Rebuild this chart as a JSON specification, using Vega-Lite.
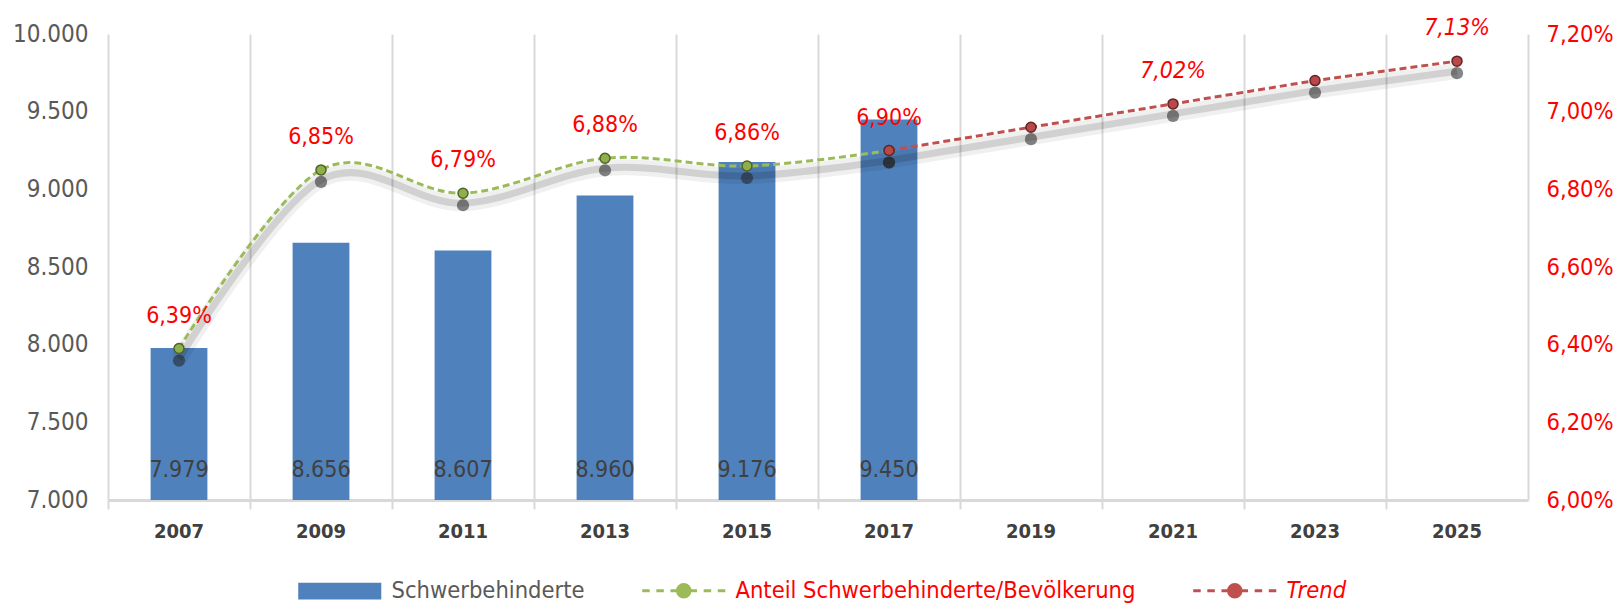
{
  "$schema": "https://vega.github.io/schema/vega-lite/v6.json",
  "autosize": "none",
  "width": 1420,
  "height": 466,
  "padding": {"left": 108, "top": 34, "right": 91, "bottom": 103},
  "datasets": {
    "bars": [
      {"Jahr": "2007", "Schwerbehinderte": 7979, "Serie": "Schwerbehinderte"},
      {"Jahr": "2009", "Schwerbehinderte": 8656, "Serie": "Schwerbehinderte"},
      {"Jahr": "2011", "Schwerbehinderte": 8607, "Serie": "Schwerbehinderte"},
      {"Jahr": "2013", "Schwerbehinderte": 8960, "Serie": "Schwerbehinderte"},
      {"Jahr": "2015", "Schwerbehinderte": 9176, "Serie": "Schwerbehinderte"},
      {"Jahr": "2017", "Schwerbehinderte": 9450, "Serie": "Schwerbehinderte"}
    ],
    "anteil": [
      {"Jahr": "2007", "Prozent": 0.0639},
      {"Jahr": "2009", "Prozent": 0.0685},
      {"Jahr": "2011", "Prozent": 0.0679},
      {"Jahr": "2013", "Prozent": 0.0688},
      {"Jahr": "2015", "Prozent": 0.0686},
      {"Jahr": "2017", "Prozent": 0.0690}
    ],
    "trend": [
      {"Jahr": "2017", "Prozent": 0.0690},
      {"Jahr": "2019", "Prozent": 0.0696},
      {"Jahr": "2021", "Prozent": 0.0702},
      {"Jahr": "2023", "Prozent": 0.0708},
      {"Jahr": "2025", "Prozent": 0.0713}
    ]
  },
  "encoding": {
    "x": {
      "field": "Jahr",
      "type": "nominal",
      "scale": {"domain": ["2007","2009","2011","2013","2015","2017","2019","2021","2023","2025"], "paddingInner": 0, "paddingOuter": 0},
      "axis": {
        "title": null,
        "labelAngle": 0,
        "bandPosition": 0,
        "grid": true,
        "gridColor": "#d9d9d9",
        "gridWidth": 2,
        "ticks": true,
        "tickSize": 9,
        "tickColor": "#d9d9d9",
        "tickWidth": 2,
        "domainColor": "#d9d9d9",
        "domainWidth": 3,
        "labelFontSize": 20,
        "labelFontWeight": "bold",
        "labelColor": "#404040",
        "labelPadding": 12
      }
    }
  },
  "layer": [
    {
      "data": {"name": "bars"},
      "layer": [
        {
          "mark": {"type": "bar", "width": {"band": 0.4}, "clip": true},
          "encoding": {
            "y": {
              "field": "Schwerbehinderte",
              "type": "quantitative",
              "scale": {"domain": [7000, 10000], "zero": false, "nice": false},
              "axis": {
                "title": null,
                "values": [7000, 7500, 8000, 8500, 9000, 9500, 10000],
                "format": ",d",
                "grid": false,
                "ticks": false,
                "domain": false,
                "labelFontSize": 24,
                "labelColor": "#595959",
                "labelPadding": 20
              }
            },
            "color": {
              "field": "Serie",
              "type": "nominal",
              "scale": {
                "domain": ["Schwerbehinderte", "Anteil Schwerbehinderte/Bevölkerung", "Trend"],
                "range": ["#4f81bd", "#9bbb59", "#c0504d"]
              },
              "legend": {
                "title": null,
                "orient": "none",
                "legendX": 220,
                "legendY": 545,
                "direction": "horizontal",
                "padding": 0,
                "symbolSize": 6900,
                "columnPadding": 51,
                "labelOffset": 40,
                "labelFontSize": 23.5,
                "labelLimit": 600,
                "encode": {
                  "symbols": {
                    "update": {
                      "shape": {"signal": "datum.index === 0 ? 'M-1,-0.2H1V0.2H-1Z' : 'M-1,0H-0.82M-0.66,0H-0.48M-0.32,0H-0.17M0.17,0H0.32M0.48,0H0.66M0.82,0H1M-0.15,0A0.15,0.15,0,1,1,0.15,0A0.15,0.15,0,1,1,-0.15,0Z'"},
                      "fill": {"signal": "datum.index === 0 ? '#4f81bd' : datum.index === 1 ? '#9bbb59' : '#c0504d'"},
                      "stroke": {"signal": "datum.index === 0 ? '#4f81bd' : datum.index === 1 ? '#9bbb59' : '#c0504d'"},
                      "strokeWidth": {"signal": "datum.index === 0 ? 0 : 3"},
                      "opacity": {"value": 1}
                    }
                  },
                  "labels": {
                    "update": {
                      "fill": {"signal": "datum.index === 0 ? '#595959' : '#ff0000'"},
                      "fontStyle": {"signal": "datum.index === 2 ? 'italic' : 'normal'"}
                    }
                  }
                }
              }
            }
          }
        },
        {
          "mark": {"type": "text", "fontSize": 23, "color": "#404040", "baseline": "middle"},
          "encoding": {
            "y": {"datum": 7190, "type": "quantitative"},
            "text": {"field": "Schwerbehinderte", "type": "quantitative", "format": ",d"}
          }
        }
      ]
    },
    {
      "encoding": {
        "y": {
          "field": "Prozent",
          "type": "quantitative",
          "scale": {"domain": [0.06, 0.072], "zero": false, "nice": false},
          "axis": {
            "orient": "right",
            "title": null,
            "values": [0.06, 0.062, 0.064, 0.066, 0.068, 0.07, 0.072],
            "format": ".2%",
            "grid": false,
            "ticks": false,
            "domain": true,
            "domainColor": "#d9d9d9",
            "domainWidth": 2,
            "labelFontSize": 23.5,
            "labelColor": "#ff0000",
            "labelPadding": 18
          }
        }
      },
      "layer": [
        {
          "data": {"name": "anteil"},
          "mark": {"type": "line", "interpolate": "cardinal", "color": "#000000", "opacity": 0.06, "strokeWidth": 16, "yOffset": 10}
        },
        {
          "data": {"name": "anteil"},
          "mark": {"type": "line", "interpolate": "cardinal", "color": "#000000", "opacity": 0.13, "strokeWidth": 7, "yOffset": 10}
        },
        {
          "data": {"name": "trend"},
          "mark": {"type": "line", "color": "#000000", "opacity": 0.06, "strokeWidth": 16, "yOffset": 10}
        },
        {
          "data": {"name": "trend"},
          "mark": {"type": "line", "color": "#000000", "opacity": 0.13, "strokeWidth": 7, "yOffset": 10}
        },
        {
          "data": {"name": "anteil"},
          "mark": {"type": "point", "filled": true, "color": "#222222", "opacity": 0.55, "size": 150, "yOffset": 12}
        },
        {
          "data": {"name": "trend"},
          "mark": {"type": "point", "filled": true, "color": "#222222", "opacity": 0.55, "size": 150, "yOffset": 12}
        },
        {
          "data": {"name": "anteil"},
          "mark": {"type": "line", "interpolate": "cardinal", "color": "#9bbb59", "strokeWidth": 3, "strokeDash": [7, 4]}
        },
        {
          "data": {"name": "trend"},
          "mark": {"type": "line", "color": "#c0504d", "strokeWidth": 3, "strokeDash": [7, 4]}
        },
        {
          "data": {"name": "anteil"},
          "mark": {"type": "point", "filled": true, "fill": "#8db04a", "stroke": "#4f6228", "strokeWidth": 1.5, "size": 100, "opacity": 1}
        },
        {
          "data": {"name": "trend"},
          "mark": {"type": "point", "filled": true, "fill": "#b9484a", "stroke": "#632523", "strokeWidth": 1.5, "size": 100, "opacity": 1}
        },
        {
          "data": {"name": "anteil"},
          "mark": {"type": "text", "fontSize": 23, "color": "#ff0000", "dy": -33, "baseline": "middle"},
          "encoding": {
            "text": {"field": "Prozent", "type": "quantitative", "format": ".2%"}
          }
        },
        {
          "data": {"name": "trend"},
          "transform": [{"filter": "datum.Jahr == '2021' || datum.Jahr == '2025'"}],
          "mark": {"type": "text", "fontSize": 23, "fontStyle": "italic", "color": "#ff0000", "dy": -33, "baseline": "middle"},
          "encoding": {
            "text": {"field": "Prozent", "type": "quantitative", "format": ".2%"}
          }
        }
      ]
    }
  ],
  "resolve": {"scale": {"y": "independent"}, "axis": {"y": "independent"}},
  "config": {
    "view": {"stroke": null},
    "font": "Liberation Sans Narrow, DejaVu Sans Condensed, Liberation Sans, sans-serif",
    "locale": {
      "number": {"decimal": ",", "thousands": ".", "grouping": [3], "currency": ["", " €"]}
    }
  }
}
